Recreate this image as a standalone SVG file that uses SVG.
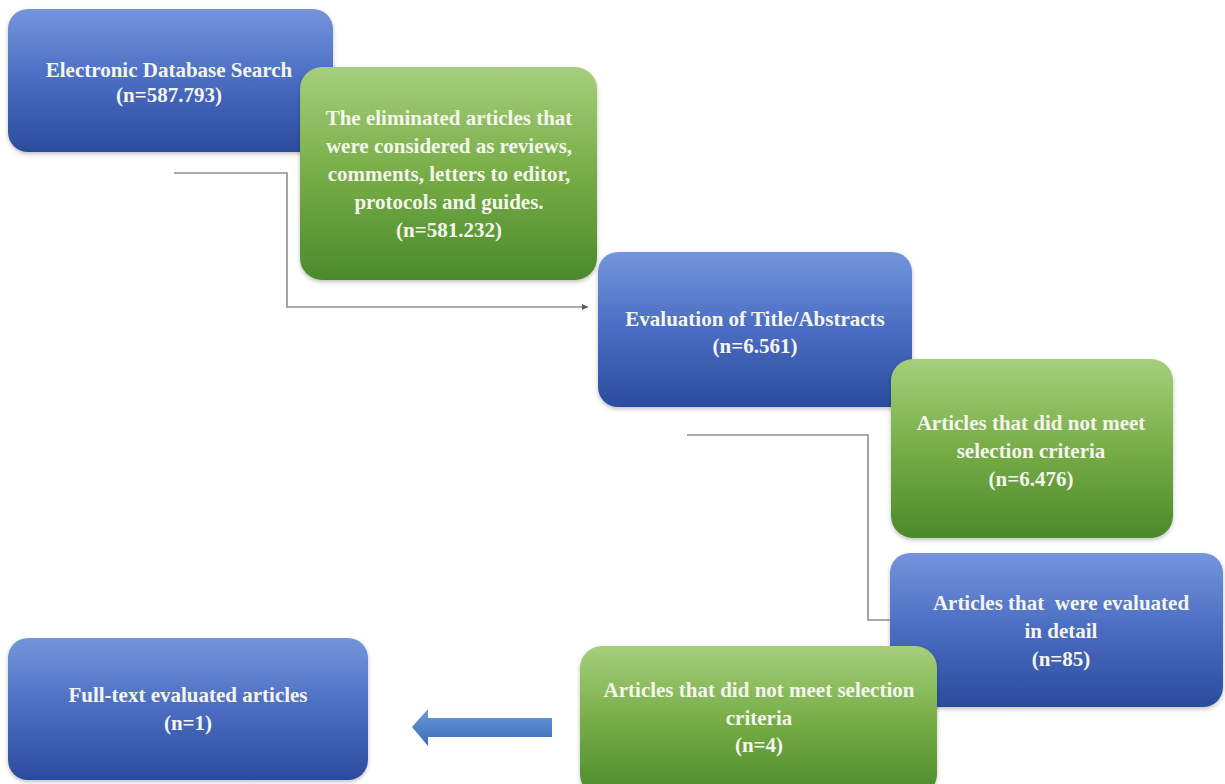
<svg xmlns="http://www.w3.org/2000/svg" width="1225" height="784" viewBox="0 0 1225 784">
<defs>
<linearGradient id="gBlue" x1="0" y1="0" x2="0" y2="1">
<stop offset="0" stop-color="#7495db"/>
<stop offset="0.5" stop-color="#4a6cc2"/>
<stop offset="1" stop-color="#2b4c9c"/>
</linearGradient>
<linearGradient id="gGreen" x1="0" y1="0" x2="0" y2="1">
<stop offset="0" stop-color="#a6cf7c"/>
<stop offset="0.5" stop-color="#77ad47"/>
<stop offset="1" stop-color="#4b8a2b"/>
</linearGradient>
<linearGradient id="gArrow" x1="0" y1="0" x2="0" y2="1">
<stop offset="0" stop-color="#6a9ad8"/>
<stop offset="1" stop-color="#3a6cb6"/>
</linearGradient>
<filter id="sh" x="-5%" y="-5%" width="110%" height="115%">
<feDropShadow dx="0" dy="2" stdDeviation="2" flood-color="#000" flood-opacity="0.25"/>
</filter>
<marker id="ah" markerWidth="8" markerHeight="8" refX="6" refY="3" orient="auto" markerUnits="userSpaceOnUse">
<path d="M0,0 L6,3 L0,6 Z" fill="#555a66"/>
</marker>
</defs>
<style>
.blue{fill:url(#gBlue);filter:url(#sh)}
.green{fill:url(#gGreen);filter:url(#sh)}
text{font-family:'Liberation Serif','Times New Roman',Times,serif;font-weight:bold;font-size:21px;fill:#f4f5ec;text-anchor:middle}
.c{fill:none;stroke:#8b8e98;stroke-width:1.6}
</style>
<rect width="1225" height="784" fill="#ffffff"/>

<g id="connectors">
<path class="c" d="M174,173 H287 V307 H588" marker-end="url(#ah)"/>
<path class="c" d="M687,435 H868 V620 H892"/>
</g>

<g id="n1">
<rect class="blue" x="8" y="9" width="325" height="143" rx="20"/>
<text x="169" y="77">Electronic Database Search</text>
<text x="169" y="102">(n=587.793)</text>
</g>

<g id="n2">
<rect class="green" x="300" y="67" width="297" height="213" rx="22"/>
<text x="449" y="125">The eliminated articles that</text>
<text x="449" y="153">were considered as reviews,</text>
<text x="449" y="181">comments, letters to editor,</text>
<text x="449" y="209">protocols and guides.</text>
<text x="449" y="237">(n=581.232)</text>
</g>

<g id="n3">
<rect class="blue" x="598" y="252" width="314" height="155" rx="20"/>
<text x="755" y="326">Evaluation of Title/Abstracts</text>
<text x="755" y="353">(n=6.561)</text>
</g>

<g id="n4">
<rect class="green" x="891" y="359" width="282" height="179" rx="22"/>
<text x="1031" y="430">Articles that did not meet</text>
<text x="1031" y="458">selection criteria</text>
<text x="1031" y="486">(n=6.476)</text>
</g>

<g id="n5">
<rect class="blue" x="890" y="553" width="333" height="154" rx="20"/>
<text x="1061" y="610" xml:space="preserve">Articles that  were evaluated</text>
<text x="1061" y="638">in detail</text>
<text x="1061" y="666">(n=85)</text>
</g>

<g id="n6">
<rect class="green" x="580" y="646" width="357" height="150" rx="22"/>
<text x="759" y="697">Articles that did not meet selection</text>
<text x="759" y="725">criteria</text>
<text x="759" y="752">(n=4)</text>
</g>

<g id="n7">
<rect class="blue" x="8" y="638" width="360" height="142" rx="20"/>
<text x="188" y="702">Full-text evaluated articles</text>
<text x="188" y="730">(n=1)</text>
</g>

<g id="blockArrow">
<path d="M412,727 L428,709 L428,718 L552,718 L552,737 L428,737 L428,746 Z" fill="url(#gArrow)"/>
</g>
</svg>
